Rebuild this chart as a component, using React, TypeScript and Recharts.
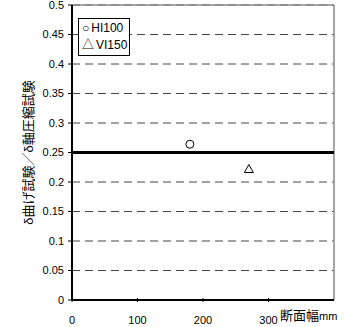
import {
  ScatterChart,
  Scatter,
  XAxis,
  YAxis,
  CartesianGrid,
  ReferenceLine,
} from "recharts";

// values
const HI100 = [{ x: 180, y: 0.264 }];
const VI150 = [{ x: 270, y: 0.222 }];
const xTicks = [0, 100, 200, 300];
const yTicks = [0, 0.05, 0.1, 0.15, 0.2, 0.25, 0.3, 0.35, 0.4, 0.45, 0.5];
const seriesNames = ["HI100", "VI150"];
const seriesMarks = ["○", "△"];

const FONT = "'Liberation Sans', Arial, 'Noto Sans CJK JP', sans-serif";

const CircleShape = (props: any) => (
  <circle cx={props.cx} cy={props.cy} r={4} fill="#fff" stroke="#000" strokeWidth={1} />
);

const TriangleShape = (props: any) => {
  const { cx, cy } = props;
  return (
    <path
      d={`M${cx},${cy - 4.5} L${cx + 4.5},${cy + 3.5} L${cx - 4.5},${cy + 3.5} Z`}
      fill="#fff"
      stroke="#000"
      strokeWidth={1}
    />
  );
};

// x ticks point inward (up), labels below
const XTick = (props: any) => {
  const { x, y, payload } = props;
  return (
    <g>
      <line x1={x} y1={y} x2={x} y2={y - 4} stroke="#000" strokeWidth={1} />
      <text x={x} y={y + 22} textAnchor="middle" fontSize={11} fontFamily={FONT} fill="#000">
        {payload.value}
      </text>
    </g>
  );
};

export default function App() {
  return (
    <div style={{ position: "absolute", left: 0, top: 0, width: 348, height: 327, background: "#fff" }}>
      <ScatterChart width={348} height={327} margin={{ top: 5, right: 14, bottom: 0, left: 0 }}>
        <CartesianGrid
          horizontal
          vertical={false}
          stroke="#444"
          strokeDasharray="8 5"
          horizontalValues={yTicks}
        />
        <ReferenceLine y={0.5} stroke="#888" strokeWidth={1.5} />
        <ReferenceLine x={400} stroke="#888" strokeWidth={1.5} />
        <ReferenceLine y={0.25} stroke="#000" strokeWidth={3} />
        <XAxis
          type="number"
          dataKey="x"
          domain={[0, 400]}
          ticks={xTicks}
          height={27}
          axisLine={{ stroke: "#000", strokeWidth: 2 }}
          tickLine={false}
          tickSize={0}
          tick={<XTick />}
          interval={0}
        />
        <YAxis
          type="number"
          dataKey="y"
          domain={[0, 0.5]}
          ticks={yTicks}
          width={72}
          interval={0}
          axisLine={{ stroke: "#000", strokeWidth: 2 }}
          tickLine={{ stroke: "#000" }}
          tickSize={4}
          tickMargin={4}
          tick={{ fill: "#000", fontSize: 11, fontFamily: FONT }}
          label={{
            value: "δ曲げ試験／δ軸圧縮試験",
            angle: -90,
            position: "insideLeft",
            dx: 23,
            dy: 0,
            style: { textAnchor: "middle", fontSize: 13, fontFamily: FONT, fill: "#000" },
          }}
        />
        <Scatter name="HI100" data={HI100} shape={<CircleShape />} isAnimationActive={false} />
        <Scatter name="VI150" data={VI150} shape={<TriangleShape />} isAnimationActive={false} />
      </ScatterChart>
      <div
        style={{
          position: "absolute",
          left: 78,
          top: 18,
          width: 44,
          border: "1px solid #000",
          background: "#fff",
          padding: "1px 3px",
          fontFamily: FONT,
          fontSize: 12,
          lineHeight: "17px",
          color: "#000",
        }}
      >
        {seriesNames.map((n, i) => (
          <div key={n}>
            <span style={{ marginRight: 2 }}>{seriesMarks[i]}</span>
            {n}
          </div>
        ))}
      </div>
      <div
        style={{
          position: "absolute",
          left: 280,
          top: 305,
          fontFamily: FONT,
          whiteSpace: "nowrap",
          color: "#000",
        }}
      >
        <span style={{ fontSize: 13 }}>断面幅</span>
        <span style={{ fontSize: 11 }}>mm</span>
      </div>
    </div>
  );
}
